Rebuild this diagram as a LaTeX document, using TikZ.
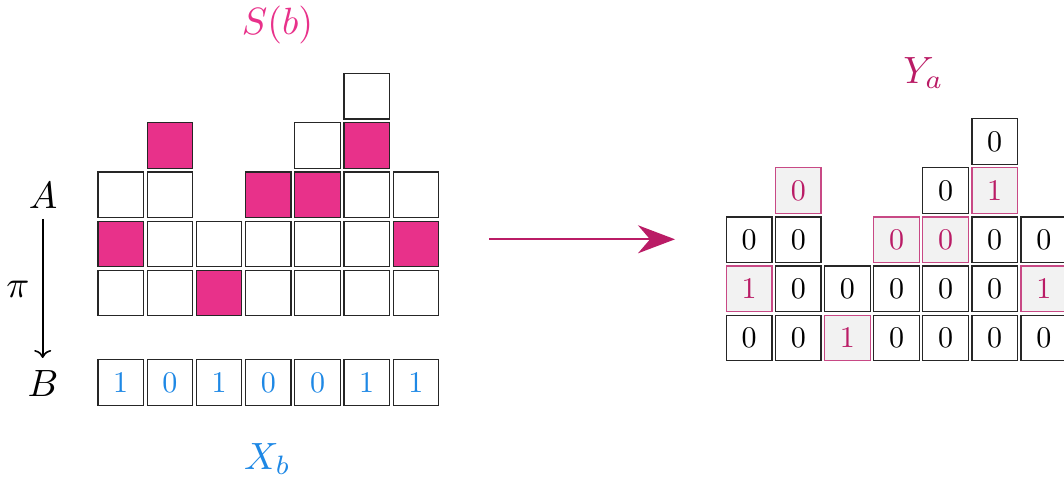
\RequirePackage{fix-cm}
\documentclass[tikz,border=0pt]{standalone}
\usetikzlibrary{arrows.meta}
\definecolor{pinkfill}{RGB}{232,49,138}
\definecolor{mag}{RGB}{186,28,102}
\definecolor{bluetxt}{RGB}{30,136,229}
\definecolor{cellgray}{RGB}{242,242,242}
\newcommand{\cn}[1]{\scalebox{3}{#1}}
\newcommand{\lb}[1]{\scalebox{3.8}{#1}}
\tikzset{
  cell/.style={draw=black!85, line width=1.2pt, minimum size=45.5pt, inner sep=0pt, fill=white},
  pcell/.style={cell, fill=pinkfill},
  mcell/.style={cell, draw=mag!80, fill=cellgray, text=mag},
  lbl/.style={inner sep=0pt, anchor=base},
}
\begin{document}
\begin{tikzpicture}[x=1pt,y=-1pt]
\useasboundingbox (0,0) rectangle (1064,478);
% left grid
\def\lx{120.7}\def\ly{96.3}\def\p{49.2}
\foreach \r/\c/\s in {1/6/cell,
  2/2/pcell, 2/5/cell, 2/6/pcell,
  3/1/cell, 3/2/cell, 3/4/pcell, 3/5/pcell, 3/6/cell, 3/7/cell,
  4/1/pcell, 4/2/cell, 4/3/cell, 4/4/cell, 4/5/cell, 4/6/cell, 4/7/pcell,
  5/1/cell, 5/2/cell, 5/3/pcell, 5/4/cell, 5/5/cell, 5/6/cell, 5/7/cell}
  \node[\s] (L-\r-\c) at ({\lx+\p*(\c-1)},{\ly+\p*(\r-1)}) {};
% B row
\foreach \c/\v in {1/1,2/0,3/1,4/0,5/0,6/1,7/1}
  \node[cell, text=bluetxt] (B-\c) at ({\lx+\p*(\c-1)},382.5) {\cn{\v}};
% right grid
\def\rx{749.2}\def\ry{141.5}\def\q{49.1}
\foreach \r/\c/\s/\v in {1/6/cell/0,
  2/2/mcell/0, 2/5/cell/0, 2/6/mcell/1,
  3/1/cell/0, 3/2/cell/0, 3/4/mcell/0, 3/5/mcell/0, 3/6/cell/0, 3/7/cell/0,
  4/1/mcell/1, 4/2/cell/0, 4/3/cell/0, 4/4/cell/0, 4/5/cell/0, 4/6/cell/0, 4/7/mcell/1,
  5/1/cell/0, 5/2/cell/0, 5/3/mcell/1, 5/4/cell/0, 5/5/cell/0, 5/6/cell/0, 5/7/cell/0}
  \node[\s] (R-\r-\c) at ({\rx+\q*(\c-1)},{\ry+\q*(\r-1)}) {\cn{\v}};
% labels
\node[lbl, text=pinkfill] (Sb) at (277.5,35) {\lb{$S(b)$}};
\node[lbl, text=bluetxt] (Xb) at (267.5,469) {\lb{$X_b$}};
\node[lbl, text=mag] (Ya) at (923.5,83.3) {\lb{$Y_a$}};
\node[lbl] (A) at (43,208.3) {\lb{$A$}};
\node[lbl] (B) at (43,396) {\lb{$B$}};
\node[lbl] (pi) at (18,297.7) {\lb{$\pi$}};
% pi arrow
\coordinate (piTop) at (42.7,219);
\coordinate (piBot) at (42.7,358);
\draw[line width=1.6pt, -{To[length=8pt,width=17pt]}] (piTop) -- (piBot);
% main arrow
\coordinate (arS) at (489,239.3);
\coordinate (arE) at (675,239.3);
\draw[mag, line width=2pt, -{Stealth[length=37pt,width=28pt,inset=12pt]}] (arS) -- (arE);
\end{tikzpicture}
\end{document}
